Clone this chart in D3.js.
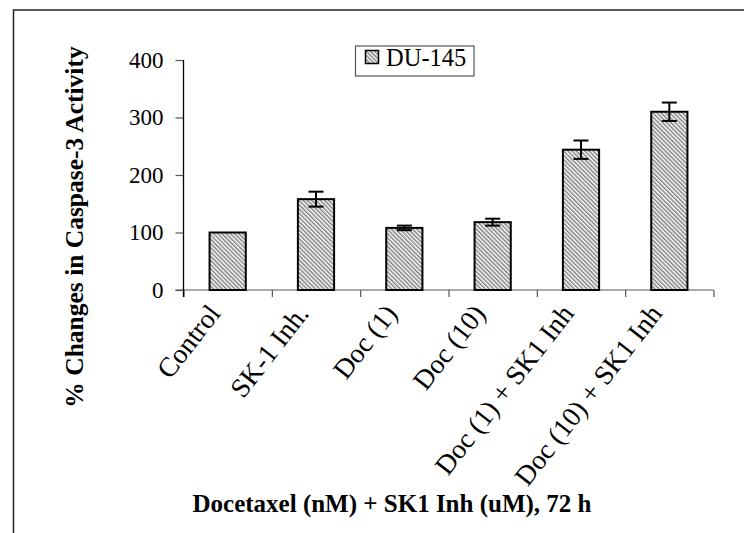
<!DOCTYPE html>
<html>
<head>
<meta charset="utf-8">
<script src="https://cdn.jsdelivr.net/npm/d3@7"></script>
<style>
  html, body { margin: 0; padding: 0; background: #fff; }
  svg { display: block; }
  text { font-family: "Liberation Serif", "Times New Roman", Times, serif; fill: #000; }
</style>
</head>
<body>
<svg id="chart" width="744" height="533"></svg>
<script>
// Caspase-3 activity in DU-145 cells after 72 h treatment
const categories = ["Control", "SK-1 Inh.", "Doc (1)", "Doc (10)", "Doc (1) + SK1 Inh", "Doc (10) + SK1 Inh"];
const activity = [100, 158, 108, 118, 244, 310];
const errors = [0, 13, 4, 6, 16, 16];
const yTicks = [0, 100, 200, 300, 400];
const seriesName = "DU-145";
const yTitle = "% Changes in Caspase-3 Activity";
const xTitle = "Docetaxel (nM) + SK1 Inh (uM), 72 h";

const svg = d3.select("#chart");

// hatched fill used by the bars and the legend swatch
const defs = svg.append("defs");
const pat = defs.append("pattern")
  .attr("id", "hatch")
  .attr("patternUnits", "userSpaceOnUse")
  .attr("width", 3).attr("height", 3)
  .attr("patternTransform", "rotate(-45)");
pat.append("rect").attr("width", 3).attr("height", 3).attr("fill", "#fff");
pat.append("line").attr("x1", 0.75).attr("y1", 0).attr("x2", 0.75).attr("y2", 3)
  .attr("stroke", "#808080").attr("stroke-width", 1.5);

// outer frame
svg.append("rect")
  .attr("x", 13.5).attr("y", 10).attr("width", 760).attr("height", 560)
  .attr("fill", "none").attr("stroke", "#222").attr("stroke-width", 1.5);

const plot = { left: 183.5, right: 713.5, top: 60, bottom: 290 };

const y = d3.scaleLinear().domain([0, 400]).range([plot.bottom, plot.top]);
const x = d3.scaleBand().domain(categories).range([plot.left, plot.right]).padding(0);
const xEdge = d3.scaleLinear().domain([0, categories.length]).range([plot.left, plot.right]);
const barW = x.bandwidth() * 0.41;

// x axis: ticks at category boundaries
const xAxis = svg.append("g")
  .attr("transform", `translate(0,${plot.bottom})`)
  .call(d3.axisBottom(xEdge).ticks(categories.length).tickSize(7).tickSizeOuter(0).tickFormat(""));
xAxis.select(".domain").remove();
xAxis.selectAll(".tick line").attr("stroke", "#555").attr("stroke-width", 1.2);
svg.append("line")
  .attr("x1", plot.left - 8).attr("x2", plot.right)
  .attr("y1", plot.bottom).attr("y2", plot.bottom)
  .attr("stroke", "#555").attr("stroke-width", 1.2);

// y axis
const yAxis = svg.append("g")
  .attr("transform", `translate(${plot.left},0)`)
  .call(d3.axisLeft(y).tickValues(yTicks).tickSize(8).tickSizeOuter(0).tickPadding(12));
yAxis.select(".domain").remove();
yAxis.selectAll(".tick line").attr("stroke", "#555").attr("stroke-width", 1.2);
yAxis.selectAll(".tick text")
  .attr("font-size", 23).attr("font-family", "Liberation Serif, Times New Roman, serif").attr("fill", "#000");
svg.append("line")
  .attr("x1", plot.left).attr("x2", plot.left)
  .attr("y1", plot.top).attr("y2", plot.bottom + 7)
  .attr("stroke", "#000").attr("stroke-width", 1.3);

// bars
svg.append("g").selectAll("rect")
  .data(categories)
  .join("rect")
  .attr("x", d => x(d) + (x.bandwidth() - barW) / 2)
  .attr("y", (d, i) => y(activity[i]))
  .attr("width", barW)
  .attr("height", (d, i) => y(0) - y(activity[i]))
  .attr("fill", "url(#hatch)")
  .attr("stroke", "#000").attr("stroke-width", 2);

// error bars
const eg = svg.append("g").attr("stroke", "#000").attr("stroke-width", 2);
categories.forEach((c, i) => {
  if (!errors[i]) return;
  const cx = x(c) + x.bandwidth() / 2;
  const hi = y(activity[i] + errors[i]);
  const lo = y(activity[i] - errors[i]);
  eg.append("line").attr("x1", cx).attr("x2", cx).attr("y1", hi).attr("y2", lo);
  eg.append("line").attr("x1", cx - 7.5).attr("x2", cx + 7.5).attr("y1", hi).attr("y2", hi);
  eg.append("line").attr("x1", cx - 7.5).attr("x2", cx + 7.5).attr("y1", lo).attr("y2", lo);
});

// rotated category labels
svg.append("g").selectAll("text")
  .data(categories)
  .join("text")
  .attr("transform", d => `translate(${x(d) + x.bandwidth() / 2 - 6},${plot.bottom + 24}) rotate(-52)`)
  .attr("text-anchor", "end")
  .attr("font-size", 27.5)
  .text(d => d);

// axis titles
svg.append("text")
  .attr("transform", `translate(83,227) rotate(-90)`)
  .attr("text-anchor", "middle")
  .attr("font-size", 25.5).attr("font-weight", "bold")
  .text(yTitle);

svg.append("text")
  .attr("x", 392).attr("y", 512)
  .attr("text-anchor", "middle")
  .attr("font-size", 25).attr("font-weight", "bold")
  .text(xTitle);

// legend
const lg = svg.append("g");
lg.append("rect")
  .attr("x", 355.5).attr("y", 46).attr("width", 118.5).attr("height", 30)
  .attr("fill", "#fff").attr("stroke", "#555").attr("stroke-width", 1.2);
lg.append("rect")
  .attr("x", 365.5).attr("y", 50.5).attr("width", 13).attr("height", 13)
  .attr("fill", "url(#hatch)").attr("stroke", "#000").attr("stroke-width", 1.5);
lg.append("text")
  .attr("x", 386).attr("y", 66)
  .attr("font-size", 24.5)
  .text(seriesName);
</script>
</body>
</html>
